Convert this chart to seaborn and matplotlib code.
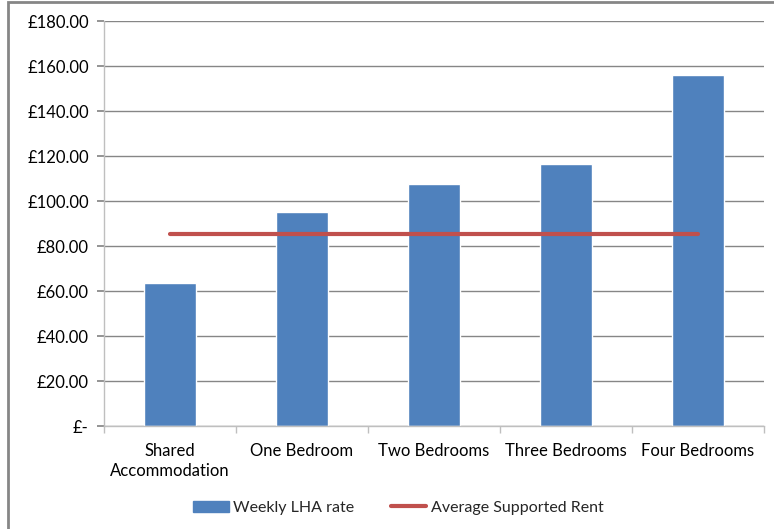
import numpy as np
import seaborn as sns
import matplotlib.pyplot as plt
from matplotlib.patches import Patch, Rectangle
from matplotlib.lines import Line2D
from matplotlib.ticker import FuncFormatter

sns.set_theme(style="white")
plt.rcParams['font.family'] = ['Lato', 'DejaVu Sans']

## --- Data
categories = ["Shared\nAccommodation", "One Bedroom", "Two Bedrooms", "Three Bedrooms", "Four Bedrooms"]
weekly_lha = [63.4, 95.0, 107.4, 116.6, 156.1]
avg_rent = [85.3, 85.3, 85.3, 85.3, 85.3]
## ---

BAR = "#4f81bd"
LINE = "#c0504d"

fig = plt.figure(figsize=(7.74, 5.29), dpi=100)
ax = fig.add_axes([0.1344, 0.1947, 0.8526, 0.7656])

sns.barplot(x=np.arange(len(categories)), y=weekly_lha, color=BAR, width=0.40,
            saturation=1, ax=ax, native_scale=True)
sns.lineplot(x=np.arange(len(categories)), y=avg_rent, color=LINE, linewidth=3, ax=ax)

ax.set_xlim(-0.5, len(categories) - 0.5)
ax.set_ylim(0, 180)
ax.set_yticks(np.arange(0, 181, 20))
ax.yaxis.set_major_formatter(FuncFormatter(lambda v, p: "£-" if v == 0 else f"£{v:.2f}"))
ax.set_xticks(np.arange(len(categories)))
ax.set_xticklabels(categories, linespacing=1.35)
ax.set_xticks(np.arange(-0.5, len(categories)), minor=True)

ax.grid(axis="y", color="#868686", linewidth=1)
ax.set_axisbelow(True)
for side in ["top", "right"]:
    ax.spines[side].set_visible(False)
ax.spines["left"].set_color("#bfbfbf")
ax.spines["bottom"].set_color("#bfbfbf")
ax.spines["left"].set_linewidth(1)
ax.spines["bottom"].set_linewidth(1)

ax.tick_params(axis="y", which="major", left=True, length=5, color="#868686", labelsize=12, pad=6,
               labelcolor="#000000")
ax.tick_params(axis="x", which="major", bottom=False, labelsize=12, pad=6, labelcolor="#000000")
ax.tick_params(axis="x", which="minor", bottom=True, length=5, color="#bfbfbf")

handles = [Patch(color=BAR, label="Weekly LHA rate"),
           Line2D([], [], color=LINE, linewidth=3, label="Average Supported Rent")]
fig.legend(handles=handles, loc="center", bbox_to_anchor=(0.515, 0.04), ncol=2, frameon=False,
           fontsize=11.5, handlelength=2.2, columnspacing=2.3, handletextpad=0.3)

# chart area border
fig.patches.append(Rectangle((8 / 774, -0.01), 1.02, 1.0 - 1.5 / 529 + 0.01, transform=fig.transFigure,
                             fill=False, edgecolor="#868686", linewidth=2))

fig.savefig("out.png", dpi=100)
